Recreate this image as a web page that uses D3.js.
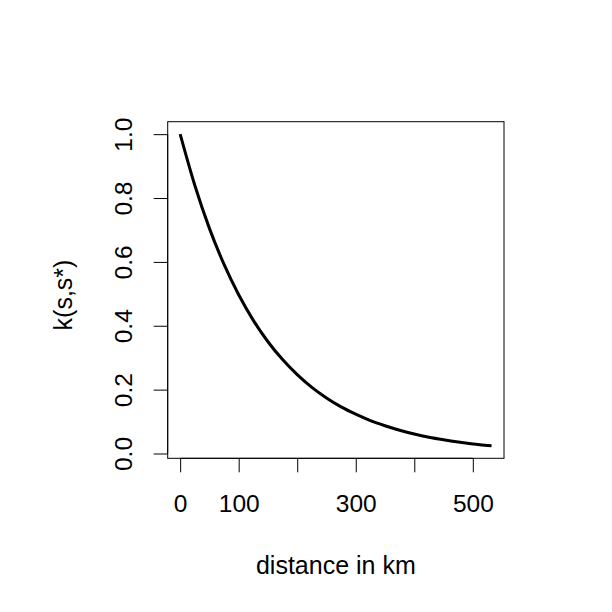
<!DOCTYPE html>
<html>
<head>
<meta charset="utf-8">
<script src="https://cdn.jsdelivr.net/npm/d3@7"></script>
<style>
  html, body { margin: 0; padding: 0; background: #fff; }
  svg { display: block; font-family: "Liberation Sans", Arial, Helvetica, sans-serif; }
</style>
</head>
<body>
<svg id="chart" width="612" height="612"></svg>
<script>
// Distance (km) and kernel value k(s,s*)
const distances = [0, 25, 50, 75, 100, 125, 150, 175, 200, 225, 250, 275, 300, 325, 350, 375, 400, 425, 450, 475, 500, 525, 532];
const kValues   = [1.000, 0.840, 0.705, 0.592, 0.497, 0.417, 0.350, 0.294, 0.247, 0.207, 0.174, 0.146, 0.123, 0.103, 0.087, 0.073, 0.061, 0.051, 0.043, 0.036, 0.030, 0.025, 0.024];

const xTicks = [0, 100, 200, 300, 400, 500];
const xTickLabels = ["0", "100", "", "300", "", "500"];
const yTicks = [0, 0.2, 0.4, 0.6, 0.8, 1.0];
const yTickLabels = ["0.0", "0.2", "0.4", "0.6", "0.8", "1.0"];

const xTitle = "distance in km";
const yTitle = "k(s,s*)";

const svg = d3.select("#chart");
const plot = { left: 167.7, right: 504, top: 121.7, bottom: 458.3 };
const tickFont = 24.5;
const titleFont = 25;

function padded(ext) {
  const d = (ext[1] - ext[0]) * 0.04;
  return [ext[0] - d, ext[1] + d];
}

const x = d3.scaleLinear().domain(padded(d3.extent(distances))).range([plot.left, plot.right]);
const y = d3.scaleLinear().domain(padded(d3.extent(kValues))).range([plot.bottom, plot.top]);

// Box
svg.append("rect")
  .attr("x", plot.left).attr("y", plot.top)
  .attr("width", plot.right - plot.left).attr("height", plot.bottom - plot.top)
  .attr("fill", "none").attr("stroke", "#000").attr("stroke-width", 1);

// X axis
const xAxis = d3.axisBottom(x).tickValues(xTicks)
  .tickFormat((d, i) => xTickLabels[i]).tickSizeInner(14).tickSizeOuter(0);
const gx = svg.append("g").attr("transform", `translate(0,${plot.bottom})`).call(xAxis);
gx.select(".domain").attr("d", `M${x(xTicks[0])},0H${x(xTicks[xTicks.length-1])}`).attr("stroke", "#000");
gx.selectAll(".tick line").attr("stroke", "#000");
gx.selectAll(".tick text").attr("font-size", tickFont).attr("fill", "#000")
  .attr("font-family", "Liberation Sans, Arial, sans-serif")
  .attr("dy", null).attr("y", 512 - plot.bottom);

// Y axis
const yAxis = d3.axisLeft(y).tickValues(yTicks)
  .tickFormat((d, i) => yTickLabels[i]).tickSizeInner(14).tickSizeOuter(0);
const gy = svg.append("g").attr("transform", `translate(${plot.left},0)`).call(yAxis);
gy.select(".domain").attr("d", `M0,${y(yTicks[0])}V${y(yTicks[yTicks.length-1])}`).attr("stroke", "#000");
gy.selectAll(".tick line").attr("stroke", "#000");
gy.selectAll(".tick text")
  .attr("font-size", tickFont).attr("fill", "#000")
  .attr("font-family", "Liberation Sans, Arial, sans-serif")
  .attr("x", null).attr("dy", null)
  .attr("text-anchor", "middle")
  .attr("transform", `translate(${132 - plot.left},0) rotate(-90)`);

// Curve
const line = d3.line()
  .x((d, i) => x(distances[i]))
  .y((d, i) => y(kValues[i]))
  .curve(d3.curveMonotoneX);
svg.append("path")
  .datum(kValues)
  .attr("d", line)
  .attr("fill", "none")
  .attr("stroke", "#000")
  .attr("stroke-width", 3);

// Titles
svg.append("text")
  .attr("x", (plot.left + plot.right) / 2).attr("y", 574)
  .attr("text-anchor", "middle").attr("font-size", titleFont).attr("fill", "#000")
  .text(xTitle);
svg.append("text")
  .attr("transform", `translate(72,295) rotate(-90)`)
  .attr("text-anchor", "middle").attr("font-size", titleFont).attr("fill", "#000")
  .text(yTitle);
</script>
</body>
</html>
